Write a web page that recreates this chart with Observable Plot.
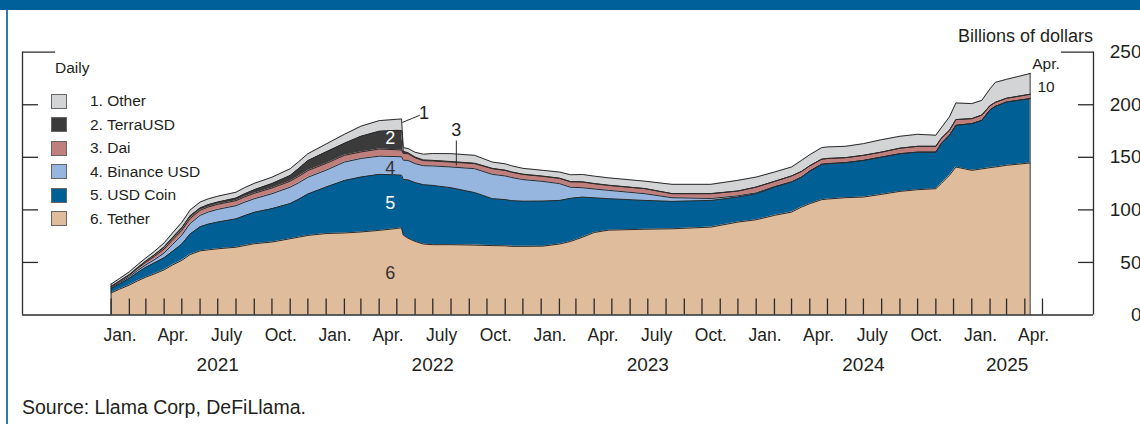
<!DOCTYPE html>
<html><head><meta charset="utf-8">
<script src="https://cdn.jsdelivr.net/npm/d3@7"></script>
<script src="https://cdn.jsdelivr.net/npm/@observablehq/plot@0.6"></script>
<style>
body{margin:0;background:#fff;}
#wrap{position:relative;width:1140px;height:424px;overflow:hidden;font-family:"Liberation Sans",Arial,sans-serif;color:#231f20;}
#topbar{position:absolute;left:0;top:0;width:1140px;height:10px;background:#00609a;}
#leftbar{position:absolute;left:6px;top:10px;width:2px;height:414px;background:#2b7bb0;}
#chart{position:absolute;left:0;top:0;}
.abs{position:absolute;white-space:nowrap;}
.sw{position:absolute;width:14px;height:13px;border:1px solid #666;}
</style></head>
<body><div id="wrap">
<div id="topbar"></div><div id="leftbar"></div>
<div id="chart"></div>
<div class="abs" style="left:55px;top:58px;font-size:15.5px;line-height:20px;">Daily</div>
<div class="abs" style="right:47px;top:25px;font-size:18px;line-height:22px;">Billions of dollars</div>
<div class="abs" style="left:22px;top:395px;font-size:19.5px;line-height:24px;">Source: Llama Corp, DeFiLlama.</div>
<div id="legend"></div>
</div>
<script>
const seriesNames = ["Tether","USD Coin","Binance USD","Dai","TerraUSD","Other"];
const seriesColors = ["#dfbc9b","#005f94","#96b5df","#c07e7c","#3b3b3b","#d3d4d6"];
const legendLabels = ["1. Other","2. TerraUSD","3. Dai","4. Binance USD","5. USD Coin","6. Tether"];
const legendKeys = ["Other","TerraUSD","Dai","Binance USD","USD Coin","Tether"];
const monthLabels = ["Jan.","Apr.","July","Oct."];
const yearLabels = ["2021","2022","2023","2024","2025"];
const yTicks = [0,50,100,150,200,250];

const dates = ["2021-01-01","2021-01-15","2021-02-01","2021-02-15","2021-03-01","2021-03-15","2021-04-01","2021-04-15","2021-05-01","2021-05-15","2021-06-01","2021-06-15","2021-07-01","2021-08-01","2021-08-15","2021-09-01","2021-10-01","2021-11-01","2021-11-15","2021-12-01",
"2022-01-01","2022-02-01","2022-03-01","2022-04-01","2022-05-01","2022-05-09","2022-05-12","2022-05-20","2022-06-01","2022-06-15","2022-07-01","2022-08-01","2022-09-10","2022-10-10","2022-11-01","2022-11-12","2022-12-01",
"2023-01-04","2023-02-01","2023-02-20","2023-03-12","2023-04-01","2023-04-25","2023-06-26","2023-08-11","2023-10-16","2023-12-01",
"2024-01-01","2024-02-01","2024-03-01","2024-03-18","2024-04-01","2024-04-21","2024-05-01","2024-06-01","2024-07-01","2024-08-01","2024-09-01","2024-10-01","2024-11-01","2024-11-10","2024-11-24","2024-12-05",
"2025-01-01","2025-01-18","2025-02-01","2025-02-10","2025-03-01","2025-04-10"];

const tether = [21,24.5,28.5,32.5,36,39,43,47.5,52,57.5,61,62,63,64.5,66,67.8,69.4,72.6,74,75.7,
77.5,78,79,80.5,82.3,83,76,73,70,67.5,66.9,66.9,66.5,66,65.8,65.3,65.3,
65.5,67.5,70,74,78.5,80.7,81.6,82,83.6,88.4,
90.6,94.8,97.9,102.7,105.9,109.7,110.3,111.6,112.2,114.8,117.6,119.2,120.2,125,132.9,140.8,
137.6,139,140.2,140.8,142.4,144.6];
const usdCoin = [4,5,6.5,8,9.5,10.5,11.5,13,15.5,19.5,23,24.5,25.5,27,28.5,30,31.8,33.5,36,39.5,
44.3,50,52.3,53.3,51,50,53,55.5,56,56.5,56.4,54.2,50,44.7,44,43.5,43,
42.9,41.5,41,38.2,33,30,27.4,26.1,25.4,23.8,
24.8,26.9,28.6,28.5,31,33.6,33.7,33.4,34.9,35.5,35.9,35.8,34.8,38,38.1,39.7,
44.5,46.2,55,57.7,60.3,61.3];
const binanceUsd = [1,1.2,1.5,1.9,2.3,3,4.5,6.5,8.5,10,10.8,11.5,12,12.5,12.7,12.8,14.2,15.5,15.7,15.8,
16,17.5,17.6,17.3,17.4,17.5,18.3,18.5,18,18,18.5,19.7,22.7,23.1,22.5,22,20.5,
18.7,16,10.5,8.9,8.4,7.9,6.4,3.5,1.8,1.2,
0.8,0.5,0.3,0.2,0.1,0.1,0.1,0,0,0,0,0,0,0,0,0,
0,0,0,0,0,0];
const dai = [1,1.1,1.4,1.9,2.5,3.1,3.8,4.3,4.6,4.8,4.8,4.8,4.8,4.8,5,5.2,5.4,5.7,6,6.4,
6.4,6.4,6.2,6.8,6.5,6.5,6.4,6.4,5.5,4.8,4.7,4.7,4.8,5.4,5.2,5,4.9,
4.8,5,5.2,5.4,5,4.7,4.8,3.8,4.6,4.5,
5.5,4.9,5.5,5.2,5,4.8,4.8,4.7,4.8,4.7,5.2,5.5,5.5,5,4.7,5.4,
4.7,5,4,3.8,3.5,4.1];
const terraUsd = [0.4,0.5,0.6,0.8,1,1.4,2,2.3,2.5,2.5,2.3,2.2,2.2,2.5,3,3.4,4.3,5.5,7.5,9.5,
11,11.5,15,17,18.5,18.5,2,1,0.8,0.7,0.6,0.5,0.4,0.3,0.3,0.3,0.3,
0.2,0.2,0.2,0.2,0.2,0.2,0.1,0.1,0.1,0.1,
0,0,0,0,0,0,0,0,0,0,0,0,0,0,0,0,
0,0,0,0,0,0];
const other = [2,2.3,2.6,2.8,3,3.3,3.8,4.3,5,5.5,5.5,5.5,5.5,5.5,5.8,6,6,6.3,6.5,6.5,
7.5,8.5,9.5,10,10.5,11,3.5,4,4.5,5.5,6.5,7.5,7.5,6,6,5.8,5.5,
5.5,5.8,6.5,7,7,7,7,8.8,8.8,10.1,
9.5,8.9,8.5,10.5,10.5,11,11,10.8,11.1,11.8,11.3,11.4,10.5,10,12.7,15.8,
14.3,14,16,19,18,19.7];

const valuesBySeries = {"Tether":tether,"USD Coin":usdCoin,"Binance USD":binanceUsd,"Dai":dai,"TerraUSD":terraUsd,"Other":other};
const parse = d3.utcParse("%Y-%m-%d");
const long = [];
dates.forEach((d,i)=>{ seriesNames.forEach(s=>long.push({date:parse(d),series:s,value:valuesBySeries[s][i]})); });
const totals = dates.map((d,i)=>({date:parse(d), total: seriesNames.reduce((a,s)=>a+valuesBySeries[s][i],0)}));
const edges = [totals[0], totals[totals.length-1]];

const xDomain = [new Date(Date.UTC(2020,7,3,14)), new Date(Date.UTC(2025,6,26,14))];
const monthTicks = d3.utcMonth.range(new Date(Date.UTC(2021,0,1)), new Date(Date.UTC(2025,4,2)));
const monthLabelData = [];
for (let y=2021;y<=2025;y++) monthLabels.forEach((m,k)=>{ if (y<2025 || k<2) monthLabelData.push({date:new Date(Date.UTC(y,k*3,16)), text:m}); });
const yearLabelData = yearLabels.map(y=> ({text:y, date: y==="2025" ? new Date(Date.UTC(2025,2,2)) : new Date(Date.UTC(+y,6,1))}));

const tags = [
  {t:"2", date:new Date(Date.UTC(2022,3,20)), v:168, c:"#ffffff"},
  {t:"4", date:new Date(Date.UTC(2022,3,20)), v:139.5, c:"#333333"},
  {t:"5", date:new Date(Date.UTC(2022,3,20)), v:106, c:"#ffffff"},
  {t:"6", date:new Date(Date.UTC(2022,3,20)), v:39.5, c:"#333333"},
  {t:"1", date:new Date(Date.UTC(2022,5,16)), v:192, c:"#231f20"},
  {t:"3", date:new Date(Date.UTC(2022,7,10)), v:175.7, c:"#231f20"}
];
const leaders = [
  {x1:new Date(Date.UTC(2022,4,10)), y1:183.1, x2:new Date(Date.UTC(2022,5,9)), y2:190},
  {x1:new Date(Date.UTC(2022,7,10)), y1:142.4, x2:new Date(Date.UTC(2022,7,10)), y2:166}
];
const ink = "#2b2b2b";
const blank = () => "";

const chart = Plot.plot({
  width:1140, height:424, marginLeft:22, marginRight:47, marginTop:51.7, marginBottom:109.5,
  x:{type:"utc", domain:xDomain},
  y:{domain:[0,250]},
  color:{domain:seriesNames, range:seriesColors},
  style:{fontFamily:'"Liberation Sans",Arial,sans-serif', color:"#231f20", background:"transparent", overflow:"visible"},
  marks:[
    Plot.areaY(long, {x:"date", y:"value", z:"series", fill:"series", order:seriesNames}),
    Plot.lineY(long, Plot.stackY2({x:"date", y:"value", z:"series", order:seriesNames, stroke:ink, strokeWidth:1})),
    Plot.ruleX(edges, {x:"date", y1:0, y2:"total", stroke:ink, strokeWidth:1}),
    Plot.axisX({ticks:monthTicks, tickSize:16, dy:-16, tickFormat:blank, stroke:ink, strokeWidth:1.3}),
    Plot.ruleY([0], {stroke:ink, strokeWidth:1.3}),
    Plot.ruleX(xDomain, {y1:0, y2:250, stroke:ink, strokeWidth:1.3}),
    Plot.axisY({anchor:"left", ticks:[50,100,150,200], tickSize:16, dx:16, tickFormat:blank, stroke:ink, strokeWidth:1.3}),
    Plot.axisY({anchor:"left", ticks:[250], tickSize:33, dx:33, tickFormat:blank, stroke:ink, strokeWidth:1.3}),
    Plot.axisY({anchor:"right", ticks:[50,100,150,200], tickSize:16, dx:-16, tickFormat:blank, stroke:ink, strokeWidth:1.3}),
    Plot.axisY({anchor:"right", ticks:[250], tickSize:33, dx:-33, tickFormat:blank, stroke:ink, strokeWidth:1.3}),
    Plot.axisY({anchor:"right", ticks:yTicks, tickSize:0, tickPadding:48, textAnchor:"end", fontSize:19, fill:"#231f20"}),
    Plot.text(monthLabelData, {x:"date", text:"text", frameAnchor:"bottom", dy:25.5, fontSize:17.5, fill:"#231f20"}),
    Plot.text(yearLabelData, {x:"date", text:"text", frameAnchor:"bottom", dy:55.5, fontSize:19, fill:"#231f20"}),
    Plot.text(tags, {x:"date", y:"v", text:"t", fill:"c", fontSize:18}),
    Plot.link(leaders, {x1:"x1", y1:"y1", x2:"x2", y2:"y2", stroke:ink, strokeWidth:1}),
    Plot.text([{t:"Apr.\n10", date:new Date(Date.UTC(2025,4,7)), v:230.5}], {x:"date", y:"v", text:"t", fontSize:15.5, lineHeight:1.5, fill:"#231f20"})
  ]
});
document.getElementById("chart").appendChild(chart);

const legend = document.getElementById("legend");
legendLabels.forEach((lab,i)=>{
  const cy = 101 + i*23.5;
  const col = seriesColors[seriesNames.indexOf(legendKeys[i])];
  const sw = document.createElement("div"); sw.className="sw";
  sw.style.left="51px"; sw.style.top=(cy-7.5)+"px"; sw.style.background=col;
  legend.appendChild(sw);
  const t = document.createElement("div"); t.className="abs";
  t.style.left="90px"; t.style.top=(cy-10)+"px"; t.style.fontSize="15.5px"; t.style.lineHeight="20px";
  t.textContent = lab; legend.appendChild(t);
});
</script>
</body></html>
